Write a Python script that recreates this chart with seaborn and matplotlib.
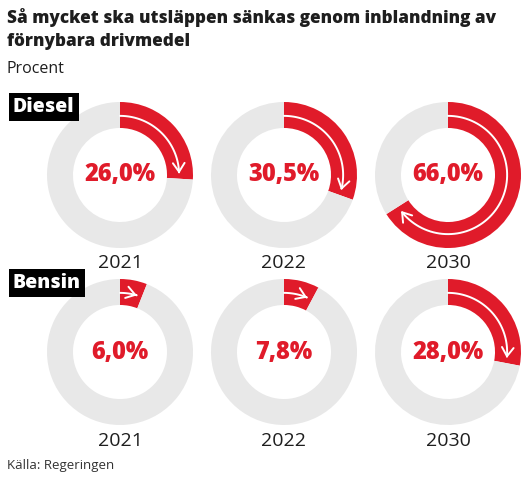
import numpy as np
import seaborn as sns
import matplotlib.pyplot as plt
from matplotlib.patches import FancyArrowPatch
from matplotlib.path import Path

fuels = ["Diesel", "Bensin"]
years = ["2021", "2022", "2030"]
diesel = [26.0, 30.5, 66.0]
bensin = [6.0, 7.8, 28.0]

sns.set_theme(style="white")
plt.rcParams['font.family'] = ['Open Sans', 'DejaVu Sans']

RED = "#e01b2a"
GREY = "#e8e8e8"
DARK = "#1e1e1e"

W, H = 532, 482
fig = plt.figure(figsize=(W / 100, H / 100), dpi=100)
fig.patch.set_facecolor("white")


def px(x, y):
    return x / W, 1 - y / H


fig.text(*px(7, 18), "Så mycket ska utsläppen sänkas genom inblandning av",
         fontsize=12.3, fontweight="heavy", color=DARK, va="center", ha="left")
fig.text(*px(7, 42), "förnybara drivmedel",
         fontsize=12.3, fontweight="heavy", color=DARK, va="center", ha="left")
fig.text(*px(7, 69), "Procent", fontsize=11.5, color=DARK, va="center", ha="left")
fig.text(*px(7, 466), "Källa: Regeringen", fontsize=9.5, color="#333333",
         va="center", ha="left")

centers_x = [120, 284, 448]
rows_y = [175, 352]
year_y = [263, 441]
label_y = [107, 283]
R = 73
half = R * 1.15

for fuel, vals, cy, yy, ly in zip(fuels, [diesel, bensin], rows_y, year_y, label_y):
    fig.text(*px(13, ly), fuel, fontsize=14, fontweight="heavy", color="white",
             va="center", ha="left",
             bbox=dict(boxstyle="square,pad=0.2", facecolor="black", edgecolor="none"))
    for cx, v, yr in zip(centers_x, vals, years):
        l, b = px(cx - half, cy + half)
        ax = fig.add_axes([l, b, 2 * half / W, 2 * half / H])
        ax.pie([v, 100 - v], colors=[RED, GREY], startangle=90, counterclock=False,
               radius=1, wedgeprops=dict(width=0.356, linewidth=0))
        # white arrow running along the red arc
        end = 90 - 360 * v / 100 + 5
        t = np.radians(np.linspace(90, end, 80))
        rr = 0.81
        verts = np.column_stack([rr * np.cos(t), rr * np.sin(t)])
        codes = [Path.MOVETO] + [Path.LINETO] * (len(verts) - 1)
        arr = FancyArrowPatch(path=Path(verts, codes),
                              arrowstyle="->,head_length=0.45,head_width=0.3",
                              color="white", lw=1.4, mutation_scale=14)
        ax.add_patch(arr)
        ax.text(0, 0, f"{v:.1f}".replace(".", ",") + "%", ha="center", va="center",
                fontsize=17, fontweight="heavy", color=RED)
        ax.set_xlim(-1.15, 1.15)
        ax.set_ylim(-1.15, 1.15)
        ax.set_aspect("equal")
        ax.axis("off")
        fig.text(*px(cx, yy), yr, fontsize=14, color=DARK, ha="center", va="center")

fig.savefig("out.png", dpi=100)
